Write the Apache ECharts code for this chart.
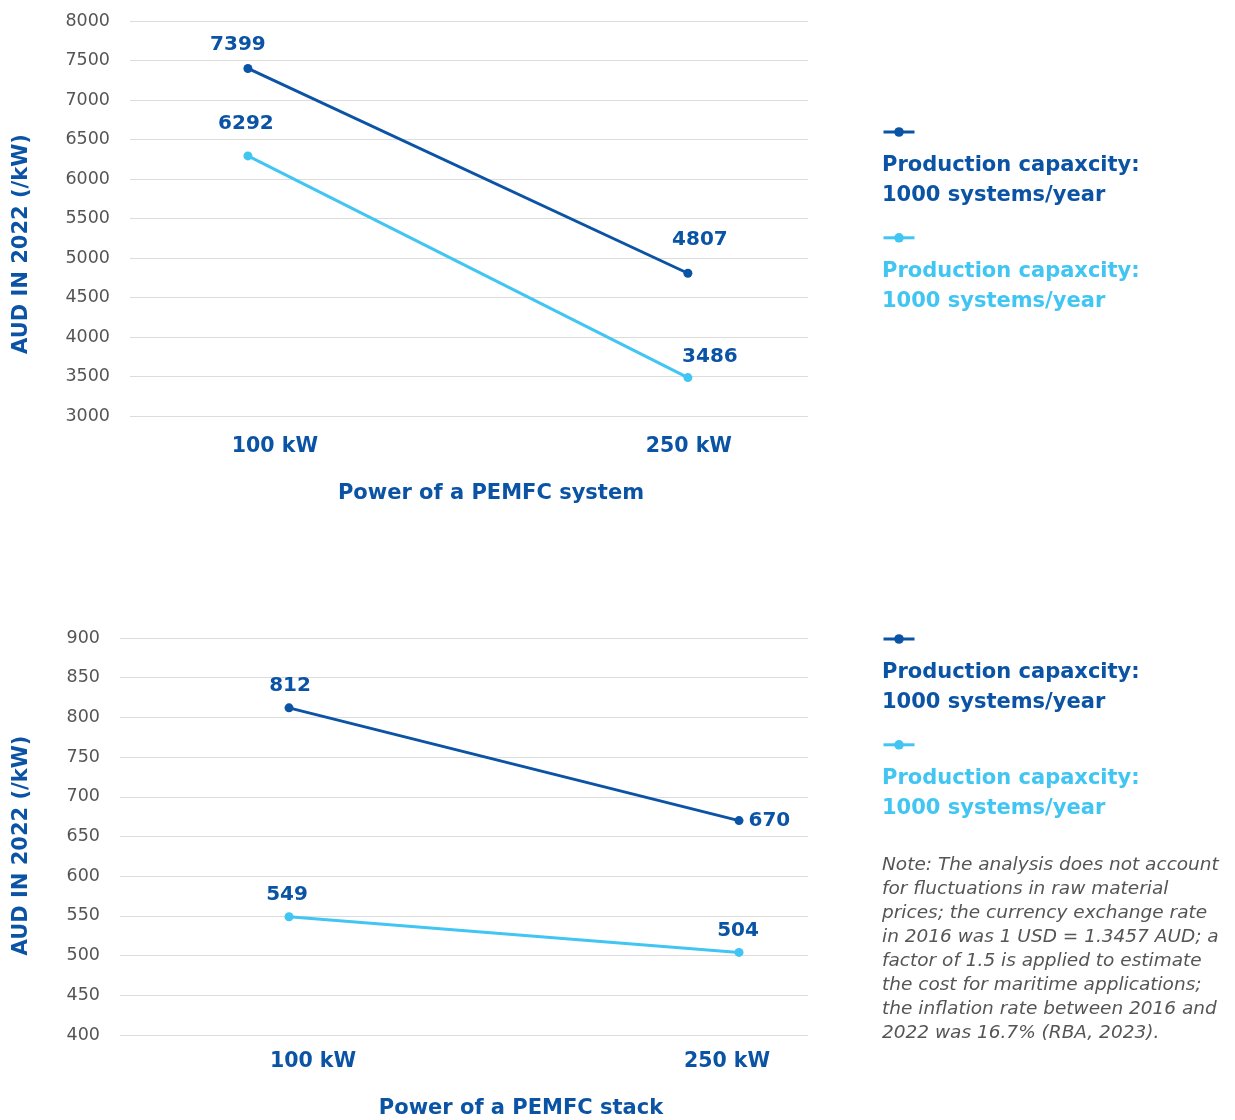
<!DOCTYPE html>
<html>
<head>
<meta charset="utf-8">
<title>PEMFC cost per kW</title>
<script src="https://cdn.jsdelivr.net/npm/echarts@6/dist/echarts.min.js"></script>
<style>
  html, body { margin: 0; padding: 0; background: #ffffff; }
  #chart { width: 1235px; height: 1120px; }
</style>
</head>
<body>
<div id="chart"></div>
<script>
// Power ratings on the horizontal axis (both panels)
const powerCategories = ['100 kW', '250 kW'];

// PEMFC system cost, AUD 2022 per kW
const systemDark = [7399, 4807];
const systemLight = [6292, 3486];

// PEMFC stack cost, AUD 2022 per kW
const stackDark = [812, 670];
const stackLight = [549, 504];

// Value-axis tick settings
const systemTicks = { min: 3000, max: 8000, interval: 500 };
const stackTicks = { min: 400, max: 900, interval: 50 };

const legendText = 'Production capaxcity:\n1000 systems/year';
const noteText = [
  'Note: The analysis does not account',
  'for fluctuations in raw material',
  'prices; the currency exchange rate',
  'in 2016 was 1 USD = 1.3457 AUD; a',
  'factor of 1.5 is applied to estimate',
  'the cost for maritime applications;',
  'the inflation rate between 2016 and',
  '2022 was 16.7% (RBA, 2023).'
].join('\n');

const DARK = '#0b53a4';
const LIGHT = '#41c5f2';
const GRID_LINE = '#dcdcdc';
const TICK_TEXT = '#555555';
const FONT = '"DejaVu Sans", sans-serif';

const toPoints = arr => arr.map((v, i) => [i, v]);

// label nudges around each point, [dx, dy]
function pointLabel(offset, position) {
  return {
    show: true,
    position: position || 'top',
    distance: 5,
    offset: offset,
    color: DARK,
    fontFamily: FONT,
    fontWeight: 'bold',
    fontSize: 20
  };
}

function lineSeries(name, color, values, axisIndex, offsets, positions) {
  return {
    name: name,
    type: 'line',
    xAxisIndex: axisIndex,
    yAxisIndex: axisIndex,
    data: toPoints(values).map((p, i) => ({
      value: p,
      label: pointLabel(offsets[i], positions ? positions[i] : 'top')
    })),
    symbol: 'circle',
    symbolSize: 9,
    lineStyle: { color: color, width: 3 },
    itemStyle: { color: color },
    emphasis: { disabled: true },
    z: 3
  };
}

function valueAxis(gridIndex, ticks, nameGap, namePad) {
  return {
    type: 'value',
    gridIndex: gridIndex,
    min: ticks.min,
    max: ticks.max,
    interval: ticks.interval,
    name: 'AUD IN 2022 (/kW)',
    nameLocation: 'middle',
    nameGap: nameGap,
    nameRotate: 90,
    nameTextStyle: {
      color: DARK,
      fontFamily: FONT,
      fontWeight: 'bold',
      fontSize: 21,
      padding: namePad
    },
    axisLine: { show: false },
    axisTick: { show: false },
    axisLabel: {
      color: TICK_TEXT,
      fontFamily: FONT,
      fontSize: 17.5,
      margin: 20,
      formatter: v => String(v)
    },
    splitLine: { lineStyle: { color: GRID_LINE, width: 1 } }
  };
}

function powerAxis(gridIndex, min, max, name, nameGap, namePad, margin, rich) {
  return {
    type: 'value',
    gridIndex: gridIndex,
    min: min,
    max: max,
    name: name,
    nameLocation: 'middle',
    nameGap: nameGap,
    nameTextStyle: {
      color: DARK,
      fontFamily: FONT,
      fontWeight: 'bold',
      fontSize: 21,
      padding: namePad
    },
    axisLine: { show: false },
    axisTick: { show: false },
    splitLine: { show: false },
    axisLabel: {
      customValues: [0, 1],
      margin: margin,
      formatter: v => '{c' + v + '|' + powerCategories[v] + '}',
      rich: rich
    }
  };
}

const catStyle = { color: DARK, fontFamily: FONT, fontWeight: 'bold', fontSize: 20.5 };

const legendBase = {
  orient: 'vertical',
  left: 882,
  padding: 0,
  itemWidth: 31,
  itemHeight: 12,
  itemGap: 95,
  selectedMode: false,
  formatter: () => '',
  lineStyle: { width: 3 },
  textStyle: { fontSize: 1 }
};

const legendFont = 'bold 21px ' + FONT;

const chart = echarts.init(document.getElementById('chart'), null, { renderer: 'canvas' });

chart.setOption({
  backgroundColor: '#ffffff',
  animation: false,
  grid: [
    { left: 130, right: 427, top: 21, height: 395 },
    { left: 120, right: 427, top: 638, height: 398 }
  ],
  xAxis: [
    powerAxis(0, -0.268, 1.273, 'Power of a PEMFC system', 67, [0, 0, 0, 44], 20, {
      c0: Object.assign({ padding: [0, 0, 0, 54] }, catStyle),
      c1: Object.assign({ padding: [0, 0, 0, 2] }, catStyle)
    }),
    powerAxis(1, -0.3756, 1.1533, 'Power of a PEMFC stack', 63, [0, 0, 0, 114], 16, {
      c0: Object.assign({ padding: [0, 0, 0, 48] }, catStyle),
      c1: Object.assign({ padding: [0, 24, 0, 0] }, catStyle)
    })
  ],
  yAxis: [
    valueAxis(0, systemTicks, 98, [0, 51, 0, 0]),
    valueAxis(1, stackTicks, 88, [0, 18, 0, 0])
  ],
  legend: [
    Object.assign({ data: ['system-dark', 'system-light'], top: 126 }, legendBase),
    Object.assign({ data: ['stack-dark', 'stack-light'], top: 633 }, legendBase)
  ],
  graphic: [
    { type: 'text', left: 882, top: 151, style: { text: legendText, fill: DARK, font: legendFont, lineHeight: 30 } },
    { type: 'text', left: 882, top: 257, style: { text: legendText, fill: LIGHT, font: legendFont, lineHeight: 30 } },
    { type: 'text', left: 882, top: 658, style: { text: legendText, fill: DARK, font: legendFont, lineHeight: 30 } },
    { type: 'text', left: 882, top: 764, style: { text: legendText, fill: LIGHT, font: legendFont, lineHeight: 30 } },
    { type: 'text', left: 882, top: 853, style: { text: noteText, fill: TICK_TEXT, font: 'italic 18.5px ' + FONT, lineHeight: 24 } }
  ],
  series: [
    lineSeries('system-dark', DARK, systemDark, 0, [[-10, -4], [12, -14]]),
    lineSeries('system-light', LIGHT, systemLight, 0, [[-2, -13], [22, -1]]),
    lineSeries('stack-dark', DARK, stackDark, 1, [[1, -3], [0, 0]], ['top', 'right']),
    lineSeries('stack-light', LIGHT, stackLight, 1, [[-2, -2], [-1, -2]])
  ]
});
</script>
</body>
</html>
